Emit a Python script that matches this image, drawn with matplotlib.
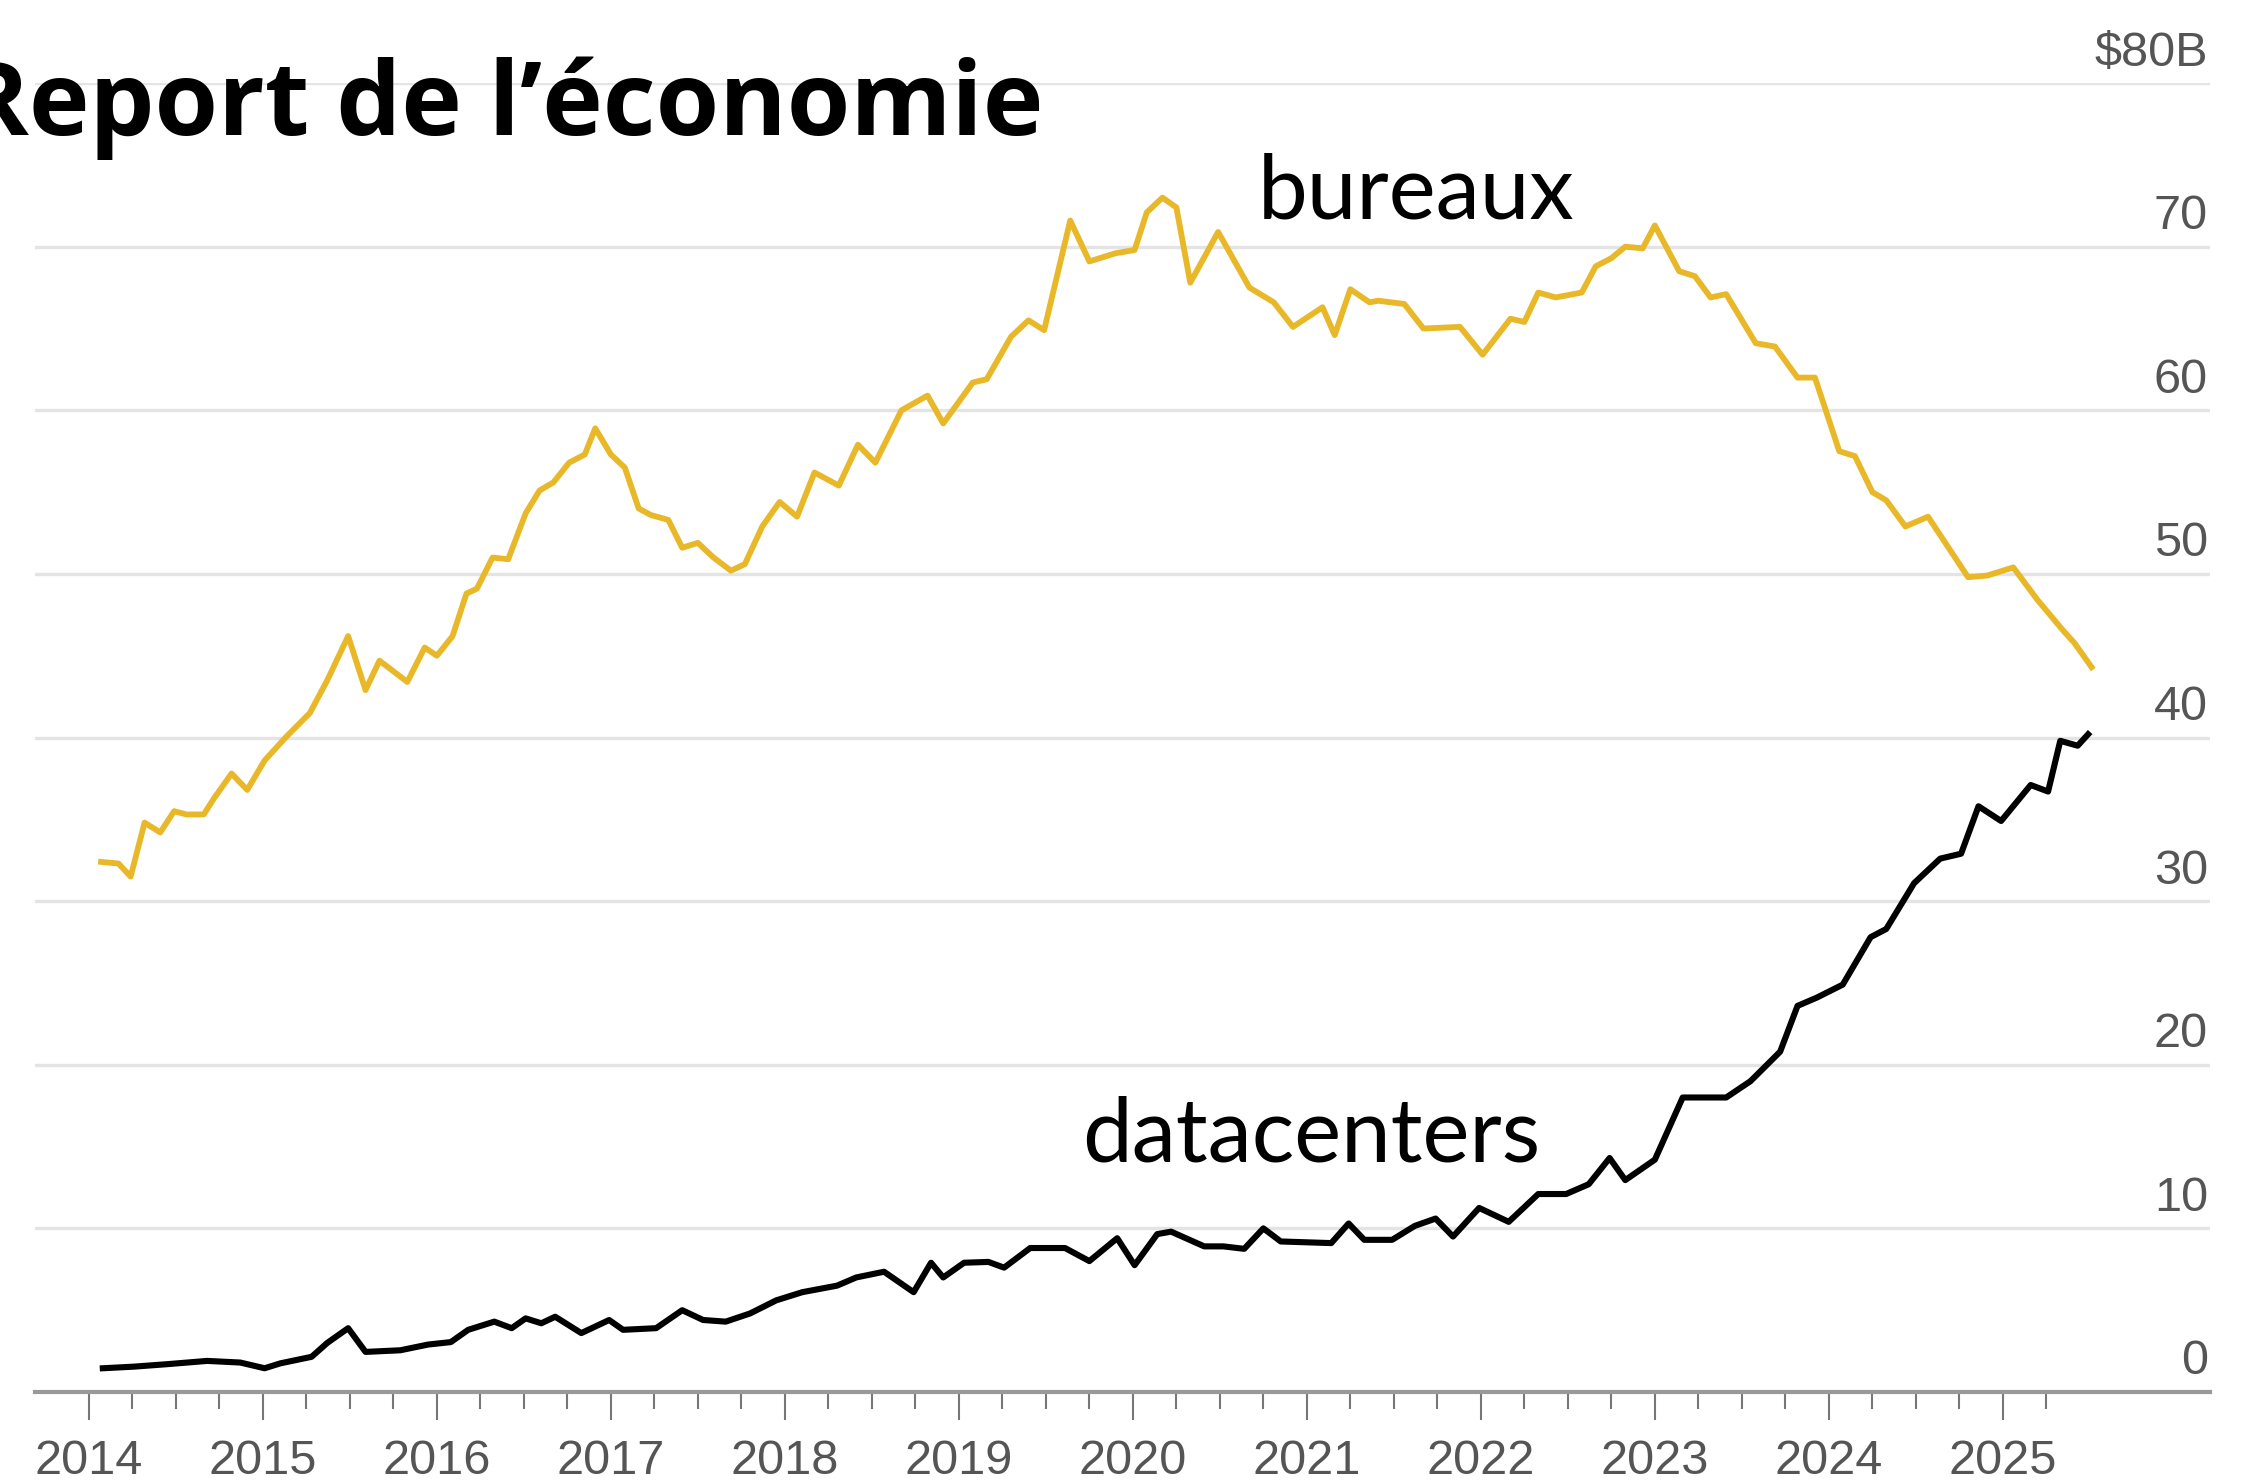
import matplotlib.pyplot as plt
import matplotlib.transforms as mtransforms
import numpy as np

# bureaux (offices) construction spending, $B
bureaux_t = [2014.07, 2014.17, 2014.24, 2014.32, 2014.41, 2014.49, 2014.56, 2014.66, 2014.72, 2014.82,
             2014.91, 2015.01, 2015.13, 2015.27, 2015.37, 2015.49, 2015.59, 2015.67, 2015.83, 2015.93,
             2016.00, 2016.09, 2016.17, 2016.23, 2016.32, 2016.41, 2016.51, 2016.59, 2016.67, 2016.76,
             2016.85, 2016.91, 2017.00, 2017.08, 2017.16, 2017.23, 2017.33, 2017.41, 2017.50, 2017.59,
             2017.69, 2017.77, 2017.87, 2017.97, 2018.07, 2018.17, 2018.31, 2018.42, 2018.52, 2018.67,
             2018.82, 2018.91, 2019.08, 2019.16, 2019.30, 2019.40, 2019.49, 2019.64, 2019.75, 2019.90,
             2020.01, 2020.08, 2020.17, 2020.25, 2020.33, 2020.49, 2020.67, 2020.81, 2020.92, 2021.09,
             2021.16, 2021.25, 2021.36, 2021.41, 2021.56, 2021.67, 2021.88, 2022.01, 2022.17, 2022.25,
             2022.33, 2022.43, 2022.58, 2022.66, 2022.75, 2022.83, 2022.93, 2023.00, 2023.14, 2023.23,
             2023.32, 2023.41, 2023.58, 2023.69, 2023.82, 2023.92, 2024.06, 2024.15, 2024.25, 2024.33,
             2024.44, 2024.57, 2024.80, 2024.91, 2025.06, 2025.20, 2025.35, 2025.41, 2025.51]
bureaux_v = [32.4, 32.3, 31.5, 34.8, 34.2, 35.5, 35.3, 35.3, 36.3, 37.8,
             36.8, 38.6, 40.0, 41.5, 43.5, 46.2, 42.9, 44.7, 43.4, 45.5,
             45.0, 46.2, 48.8, 49.1, 51.0, 50.9, 53.7, 55.1, 55.6, 56.8,
             57.3, 58.9, 57.3, 56.5, 54.0, 53.6, 53.3, 51.6, 51.9, 51.0,
             50.2, 50.6, 52.9, 54.4, 53.5, 56.2, 55.4, 57.9, 56.8, 60.0,
             60.9, 59.2, 61.7, 61.9, 64.5, 65.5, 64.9, 71.6, 69.1, 69.6,
             69.8, 72.1, 73.0, 72.4, 67.8, 70.9, 67.5, 66.6, 65.1, 66.3,
             64.6, 67.4, 66.6, 66.7, 66.5, 65.0, 65.1, 63.4, 65.6, 65.4,
             67.2, 66.9, 67.2, 68.8, 69.3, 70.0, 69.9, 71.3, 68.5, 68.2,
             66.9, 67.1, 64.1, 63.9, 62.0, 62.0, 57.5, 57.2, 55.0, 54.5,
             52.9, 53.5, 49.8, 49.9, 50.4, 48.4, 46.5, 45.8, 44.3]

# datacenters construction spending, $B
dc_t = [2014.08, 2014.26, 2014.45, 2014.68, 2014.87, 2015.01, 2015.10, 2015.28, 2015.37, 2015.49,
        2015.59, 2015.79, 2015.95, 2016.08, 2016.18, 2016.33, 2016.43, 2016.51, 2016.60, 2016.68,
        2016.83, 2016.99, 2017.07, 2017.26, 2017.41, 2017.53, 2017.66, 2017.80, 2017.95, 2018.10,
        2018.30, 2018.41, 2018.57, 2018.74, 2018.84, 2018.91, 2019.03, 2019.17, 2019.26, 2019.41,
        2019.61, 2019.75, 2019.91, 2020.01, 2020.14, 2020.22, 2020.41, 2020.52, 2020.64, 2020.75,
        2020.85, 2021.14, 2021.24, 2021.33, 2021.49, 2021.62, 2021.74, 2021.84, 2021.99, 2022.16,
        2022.33, 2022.49, 2022.62, 2022.74, 2022.83, 2023.00, 2023.16, 2023.41, 2023.55, 2023.72,
        2023.82, 2023.93, 2024.08, 2024.24, 2024.33, 2024.49, 2024.64, 2024.76, 2024.86, 2024.99,
        2025.16, 2025.26, 2025.33, 2025.43, 2025.49]
dc_v = [1.45, 1.55, 1.7, 1.9, 1.8, 1.45, 1.75, 2.15, 3.0, 3.9,
        2.45, 2.55, 2.9, 3.05, 3.8, 4.3, 3.9, 4.5, 4.2, 4.6,
        3.6, 4.4, 3.8, 3.9, 5.0, 4.4, 4.3, 4.8, 5.6, 6.1,
        6.5, 7.0, 7.35, 6.1, 7.9, 7.0, 7.9, 7.95, 7.6, 8.8,
        8.8, 8.0, 9.4, 7.75, 9.65, 9.8, 8.9, 8.9, 8.75, 10.0,
        9.2, 9.1, 10.3, 9.3, 9.3, 10.15, 10.6, 9.5, 11.25, 10.4,
        12.1, 12.1, 12.7, 14.3, 12.95, 14.2, 18.0, 18.0, 19.0, 20.8,
        23.6, 24.1, 24.9, 27.8, 28.3, 31.1, 32.6, 32.9, 35.8, 34.9,
        37.1, 36.7, 39.8, 39.5, 40.2]

years = list(range(2014, 2026))
y_ticks = [0, 10, 20, 30, 40, 50, 60, 70, 80]
y_labels = ['0', '10', '20', '30', '40', '50', '60', '70', '$80B']

yellow = '#E8B828'
grey_txt = '#555555'

fig = plt.figure(figsize=(22.55, 14.84), dpi=100)
ax = fig.add_axes([0.0155, 0.062, 0.9645, 0.882])

ax.plot(bureaux_t, bureaux_v, color=yellow, lw=4.2, solid_joinstyle='round')
ax.plot(dc_t, dc_v, color='black', lw=4.4, solid_joinstyle='round')

ax.set_xlim(2013.69, 2026.19)
ax.set_ylim(0, 80)

# horizontal grid
ax.set_yticks(y_ticks)
ax.yaxis.grid(True, color='#e4e4e4', lw=2.4)
ax.tick_params(axis='y', length=0, labelleft=False)
ax.set_axisbelow(True)

# y labels sit above the gridlines, right-aligned
trans = mtransforms.blended_transform_factory(ax.transAxes, ax.transData)
off = mtransforms.offset_copy(trans, fig=fig, x=-2, y=30, units='dots')
for v, lab in zip(y_ticks, y_labels):
    ax.text(1.0, v, lab, transform=off, ha='right', va='center',
            fontsize=35, color=grey_txt, family='Liberation Sans')

# x axis: yearly labels, quarterly ticks
ax.set_xticks(years)
ax.set_xticklabels([str(y) for y in years], family='Liberation Sans', fontsize=35, color=grey_txt)
ax.set_xticks(np.arange(2014, 2025.3, 0.25), minor=True)
ax.tick_params(axis='x', which='major', length=20, width=1.5, color='#777777', pad=14)
ax.tick_params(axis='x', which='minor', length=12, width=1.5, color='#777777')

for s in ['top', 'left', 'right']:
    ax.spines[s].set_visible(False)
ax.spines['bottom'].set_color('#999999')
ax.spines['bottom'].set_linewidth(3)

ax.text(2020.72, 71.7, 'bureaux', family='Lato', fontsize=64, va='baseline', ha='left')
ax.text(2019.71, 14.1, 'datacenters', family='Lato', fontsize=64, va='baseline', ha='left')

# title runs off the left edge as in the source crop
fig.text(0.4625, 0.909, 'Report de l\u2019\u00e9conomie', family='Open Sans', weight='bold',
         fontsize=74, ha='right', va='baseline')

fig.savefig('out.png', dpi=100, facecolor='white')
